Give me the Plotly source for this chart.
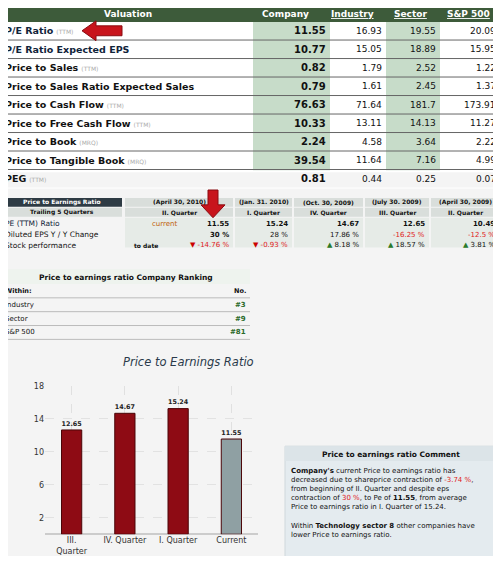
import plotly.graph_objects as go

W, H = 485, 548   # page body margin of 8px; coordinates below are in reference pixels
OFF = 8
FONT = "DejaVu Sans"

# ---- data ----
val_metrics = ["P/E Ratio", "P/E Ratio Expected EPS", "Price to Sales", "Price to Sales Ratio Expected Sales",
               "Price to Cash Flow", "Price to Free Cash Flow", "Price to Book", "Price to Tangible Book", "PEG"]
val_suffix = ["(TTM)", "", "(TTM)", "", "(TTM)", "(TTM)", "(MRQ)", "(MRQ)", "(TTM)"]
company = ["11.55", "10.77", "0.82", "0.79", "76.63", "10.33", "2.24", "39.54", "0.81"]
industry = ["16.93", "15.05", "1.79", "1.61", "71.64", "13.11", "4.58", "11.64", "0.44"]
sector = ["19.55", "18.89", "2.52", "2.45", "181.7", "14.13", "3.64", "7.16", "0.25"]
sp500 = ["20.09", "15.95", "1.22", "1.37", "173.91", "11.27", "2.22", "4.99", "0.07"]

q_dates = ["(April 30, 2010)", "(Jan. 31. 2010)", "(Oct. 30, 2009)", "(July 30. 2009)", "(April 30, 2009)"]
q_names = ["II. Quarter", "I. Quarter", "IV. Quarter", "III. Quarter", "II. Quarter"]
pe_ttm = ["11.55", "15.24", "14.67", "12.65", "10.49"]
eps_chg = ["30 %", "28 %", "17.86 %", "-16.25 %", "-12.5 %"]
stock_perf = ["-14.76 %", "-0.93 %", "8.18 %", "18.57 %", "3.81 %"]

rank_names = ["Industry", "Sector", "S&P 500"]
rank_vals = ["#3", "#9", "#81"]

bar_cats = ["III.<br>Quarter", "IV. Quarter", "I. Quarter", "Current"]
bar_vals = [12.65, 14.67, 15.24, 11.55]
bar_colors = ["#8e0b14", "#8e0b14", "#8e0b14", "#8fa0a3"]

def X(px): return (px - OFF) / W
def Y(py): return 1 - (py - OFF) / H

shapes, ann = [], []
def rect(x0, y0, x1, y1, fill, line=None):
    shapes.append(dict(type="rect", xref="paper", yref="paper", x0=X(x0), x1=X(x1), y0=Y(y1), y1=Y(y0),
                       fillcolor=fill, line=dict(width=1 if line else 0, color=line or fill), layer="below"))
def hline(x0, x1, y, color="#888", w=1):
    shapes.append(dict(type="line", xref="paper", yref="paper", x0=X(x0), x1=X(x1), y0=Y(y), y1=Y(y),
                       line=dict(color=color, width=w)))
def txt(x, y, s, size=10, color="#111", anchor="left", bold=False, font=FONT):
    if bold: s = "<b>" + s + "</b>"
    ann.append(dict(xref="paper", yref="paper", x=X(x), y=Y(y), text=s, showarrow=False, xanchor=anchor,
                    yanchor="middle", font=dict(size=size, color=color, family=font)))

rect(0, 0, 501, 564, "#f4f4f4")

# ---- top valuation table ----
rect(0, 0, 501, 170, "#ffffff")
rect(0, 2, 501, 18, "#3d5b3a")
rect(253, 18, 330, 168, "#c7dcc9")
rect(386, 18, 440, 168, "#c7dcc9")
txt(128, 10, "Valuation", 9, "white", "center", True)
txt(285, 10, "Company", 9, "white", "center", True)
txt(352, 10, "<u>Industry</u>", 9, "white", "center", True)
txt(410, 10, "<u>Sector</u>", 9, "white", "center", True)
txt(468, 10, "<u>S&P 500</u>", 9, "white", "center", True)
row_h = 18.7
for i, m in enumerate(val_metrics):
    yc = 27 + i * row_h
    hline(0, 501, yc + row_h / 2, "#666" if i < 8 else "#fff", 1)
    label = "<b>" + m + "</b>" + (" <span style='font-size:6px;color:#aaa'>" + val_suffix[i] + "</span>" if val_suffix[i] else "")
    txt(3, yc, label, 9.5, "#10243a" if i < 2 else "#111")
    txt(328, yc, company[i], 10, "#111", "right", True)
    txt(384, yc, industry[i], 9, "#111", "right")
    txt(438, yc, sector[i], 9, "#111", "right")
    txt(498, yc, sp500[i], 9, "#111", "right")
shapes.append(dict(type="path", xref="paper", yref="paper",
                   path=f"M {X(82)},{Y(27)} L {X(96)},{Y(17)} L {X(96)},{Y(22)} L {X(122)},{Y(22)} L {X(122)},{Y(32)} L {X(96)},{Y(32)} L {X(96)},{Y(37)} Z",
                   fillcolor="#c8141c", line=dict(color="#8a0a10", width=1)))

# ---- quarter table ----
cols = [(124, 234), (234, 293), (293, 364), (364, 430), (430, 500)]
rect(3, 196, 122, 205, "#2e3b44")
rect(3, 206, 122, 215, "#d9dedb")
txt(62, 200.5, "Price to Earnings Ratio", 6, "white", "center", True)
txt(62, 210.5, "Trailing 5 Quarters", 6, "#111", "center", True)
for j, (a, b) in enumerate(cols):
    rect(a + 1, 196, b - 1, 205, "#d9dedb")
    rect(a + 1, 206, b - 1, 215, "#d9dedb")
    rect(a + 1, 216, b - 1, 246, "#e6ebe7")
    txt((a + b) / 2, 200.5, q_dates[j], 6, "#111", "center", True)
    txt((a + b) / 2, 210.5, q_names[j], 6, "#111", "center", True)
    txt(b - 3, 222, pe_ttm[j], 7, "#111", "right", True)
    neg_eps = eps_chg[j].startswith("-")
    txt(b - 3, 233, eps_chg[j], 7, "#e02020" if neg_eps else "#111", "right", j == 0)
    neg = stock_perf[j].startswith("-")
    arrow = "<span style='color:#c00'>▼</span>" if neg else "<span style='color:#2a7a2a'>▲</span>"
    txt(b - 3, 244, arrow + " " + stock_perf[j], 7, "#e02020" if neg else "#111", "right")
txt(165, 222, "current", 7, "#c0600a", "center")
txt(160, 244, "<b>to date</b>", 6, "#111", "right")
txt(3, 222, "PE (TTM) Ratio", 7.5, "#10243a")
txt(3, 233, "Diluted EPS Y / Y Change", 7.5, "#111")
txt(3, 244, "Stock performance", 7.5, "#111")
shapes.append(dict(type="path", xref="paper", yref="paper",
                   path=f"M {X(213)},{Y(216)} L {X(201)},{Y(203)} L {X(208)},{Y(203)} L {X(208)},{Y(188)} L {X(218)},{Y(188)} L {X(218)},{Y(203)} L {X(225)},{Y(203)} Z",
                   fillcolor="#c8141c", line=dict(color="#8a0a10", width=1)))

# ---- ranking table ----
rect(3, 268, 250, 283, "#eef3ee")
txt(126, 276, "Price to earnings ratio Company Ranking", 7.5, "#111", "center", True)
txt(3, 290, "Within:", 6.5, "#111", "left", True)
txt(248, 290, "No.", 6.5, "#111", "right", True)
hline(3, 250, 297, "#bbb")
for k, nm in enumerate(rank_names):
    yc = 304 + k * 14
    txt(3, yc, nm, 7, "#111")
    txt(248, yc, rank_vals[k], 7, "#2a6a2a", "right", True)
    hline(3, 250, yc + 7, "#bbb")

# ---- comment box ----
rect(285, 447, 498, 560, "#e4ebef", "#cfd8dc")
rect(285, 447, 498, 462, "#dce4e8")
txt(391, 455, "Price to earnings ratio Comment", 7.5, "#111", "center", True)
comment = ("<b>Company's</b> current Price to earnings ratio has<br>"
           "decreased due to shareprice contraction of <span style='color:#e02020'>-3.74 %</span>,<br>"
           "from beginning of II. Quarter and despite eps<br>"
           "contraction of <span style='color:#e02020'>30 %</span>, to Pe of <b>11.55</b>, from average<br>"
           "Price to earnings ratio in I. Quarter of 15.24.<br><br>"
           "Within <b>Technology sector 8</b> other companies have<br>"
           "lower Price to earnings ratio.")
ann.append(dict(xref="paper", yref="paper", x=X(289), y=Y(466), text=comment, showarrow=False, xanchor="left",
                yanchor="top", align="left", font=dict(size=7, color="#111", family=FONT)))

# ---- bar chart ----
fig = go.Figure()
fig.add_trace(go.Bar(x=bar_cats, y=bar_vals, marker=dict(color=bar_colors, line=dict(color="#4a0508", width=1)),
                     width=0.38, text=[f"{v:.2f}" for v in bar_vals], textposition="outside",
                     textfont=dict(size=9, color="#222", family=FONT), texttemplate="<b>%{text}</b>",
                     cliponaxis=False))
txt(188, 362, "<i>Price to Earnings Ratio</i>", 11.5, "#2a3a4a", "center")

fig.update_layout(
    width=W, height=H, margin=dict(l=0, r=0, t=0, b=0), paper_bgcolor="#f4f4f4", plot_bgcolor="#f4f4f4",
    shapes=shapes, annotations=ann, showlegend=False, bargap=0.5,
    xaxis=dict(domain=[X(45), X(258)], tickfont=dict(size=8, color="#333", family=FONT),
               showgrid=True, gridcolor="#e0e0e0", griddash="dash", showline=False),
    yaxis=dict(domain=[Y(536), Y(386)], range=[0, 18], tickvals=[2, 6, 10, 14, 18],
               tickfont=dict(size=8, color="#333", family=FONT), gridcolor="#e2e2e2", griddash="dash",
               zeroline=True, zerolinecolor="#ccc"),
)
fig.write_html("out.html")
